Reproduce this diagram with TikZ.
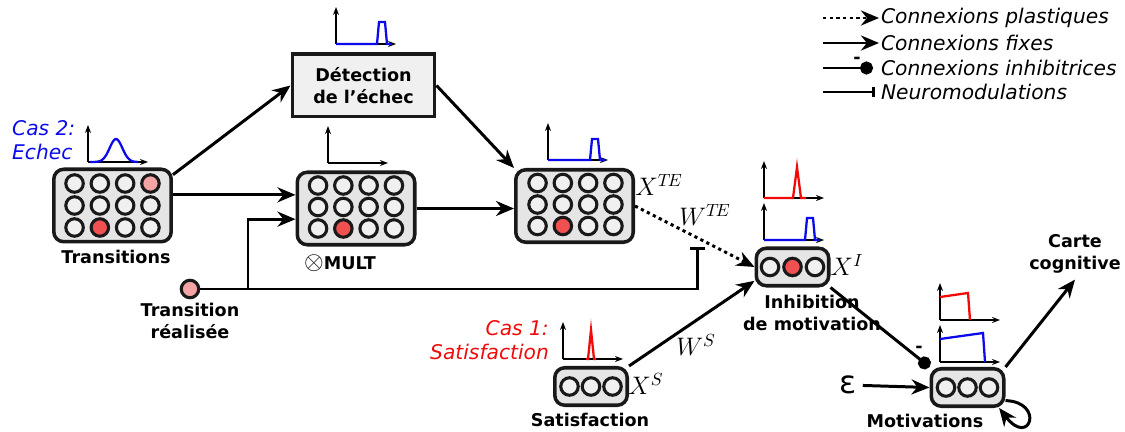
\documentclass[tikz,border=0pt]{standalone}
\usepackage{fontspec}
\setmainfont{DejaVu Sans}[ItalicFont={DejaVu Sans Oblique},BoldFont={DejaVu Sans Bold}]
\usepackage{tikz}
\usetikzlibrary{
  arrows.meta,
  calc
}
\definecolor{boxgray}{RGB}{229,229,229}
\definecolor{cellgray}{RGB}{240,240,240}
\definecolor{cellpink}{RGB}{244,164,164}
\definecolor{cellred}{RGB}{240,80,80}
\definecolor{inkdark}{RGB}{25,25,25}
\definecolor{casblue}{RGB}{10,10,235}
\definecolor{casred}{RGB}{240,10,10}

% empty signal axes, origin given in pixels
\newcommand{\sigaxes}[1]{%
  \draw[axis] (#1) -- ++(0,-37);
  \draw[axis] (#1) -- ++(60,0);}

\begin{document}
\begin{tikzpicture}[x=0.02cm, y=-0.02cm,
    popbox/.style={draw=inkdark, line width=2pt, fill=boxgray, rounded corners=0.2cm, minimum width=2.35cm, minimum height=1.45cm},
    smallpop/.style={popbox, minimum width=1.45cm, minimum height=0.75cm},
    cell/.style={circle, draw=inkdark, line width=1.75pt, fill=cellgray, minimum size=0.35cm, inner sep=0pt},
    lbl/.style={font=\fontsize{10}{12.5}\selectfont\bfseries, align=center},
    cas/.style={font=\fontsize{11.5}{14}\selectfont\itshape},
    var/.style={font=\fontsize{14}{16}\selectfont},
    fixe/.style={line width=1.7pt, -{Stealth[length=0.36cm,width=0.3cm]}},
    plastique/.style={fixe, dash pattern=on 1.8pt off 2pt},
    inhibe/.style={line width=1.7pt, -{Circle[length=0.26cm]}},
    neuromod/.style={line width=1.7pt, -{Bar[width=0.3cm]}},
    axis/.style={line width=0.9pt, -{Stealth[length=0.16cm,width=0.12cm]}},
    sig/.style={line width=1.3pt}]
  \useasboundingbox (0,0) rectangle (1125,432);

  % Populations
  \node[popbox] (trans) at (112.5,205.5) {};
  \node[popbox] (mult) at (356,208.5) {};
  \node[popbox] (te) at (574.5,206) {};
  \node[smallpop] (inhib) at (792.5,267) {};
  \node[smallpop] (satis) at (591,386.5) {};
  \node[smallpop] (motiv) at (967.5,387.5) {};
  \node[draw=inkdark, line width=2pt, fill=cellgray, minimum width=2.85cm, minimum height=1.25cm, lbl] (detect) at (363.5,85.5) {Détection\\de l'échec};
  \node[cell, fill=cellpink] (real) at (190,289) {};

  % Neurons
  \foreach \r/\fills in {1/{cellgray,cellgray,cellgray,cellpink}, 2/{cellgray,cellgray,cellgray,cellgray}, 3/{cellgray,cellred,cellgray,cellgray}}
    \foreach \f [count=\c] in \fills
      \node[cell, fill=\f] (trans-\c\r) at ($(trans)+({(\c-2.5)*25.3},{(\r-2)*22})$) {};
  \foreach \r/\fills in {1/{cellgray,cellgray,cellgray,cellgray}, 2/{cellgray,cellgray,cellgray,cellgray}, 3/{cellgray,cellred,cellgray,cellgray}}
    \foreach \f [count=\c] in \fills {
      \node[cell, fill=\f] (mult-\c\r) at ($(mult)+({(\c-2.5)*25.3},{(\r-2)*21.5-1.5})$) {};
      \node[cell, fill=\f] (te-\c\r) at ($(te)+({(\c-2.5)*25.3+1},{(\r-2)*21.5-1.5})$) {};
    }
  \foreach \f [count=\c] in {cellgray,cellred,cellgray} {
    \node[cell, fill=\f] (inhib-\c) at ($(inhib)+({(\c-2)*22.5},0)$) {};
  }
  \foreach \c in {1,2,3} {
    \node[cell] (satis-\c) at ($(satis)+({(\c-2)*21.5},0)$) {};
    \node[cell] (motiv-\c) at ($(motiv)+({(\c-2)*21.5},0)$) {};
  }

  % Names
  \node[lbl] (transname) at (116,257) {Transitions};
  \node[lbl] (multname) at (340,263) {{\fontsize{14}{14}\selectfont$\otimes$}MULT};
  \node[lbl] (realname) at (190,321) {Transition\\réalisée};
  \node[lbl] (inhibname) at (812,313) {Inhibition\\de motivation};
  \node[lbl] (satisname) at (590,420) {Satisfaction};
  \node[lbl] (motivname) at (925,421) {Motivations};
  \node[lbl] (carte) at (1075,254) {Carte\\cognitive};
  \node[cas, text=casblue, align=left, anchor=west] (cas2) at (6,140) {Cas 2:\\Echec};
  \node[cas, text=casred, align=right, anchor=east] (cas1) at (555,340) {Cas 1:\\Satisfaction};
  \node[var] (xte) at (659,185) {$X^{T\!E}$};
  \node[var] (wte) at (705,215) {$W^{T\!E}$};
  \node[var] (xi) at (847,265) {$X^{I}$};
  \node[var] (xs) at (646,384) {$X^{S}$};
  \node[var] (ws) at (696,345) {$W^{S}$};
  \node[font=\fontsize{18}{18}\selectfont] (eps) at (848,385) {ε};

  % Signals
  \sigaxes{88,162}
  \draw[sig, casblue] plot[domain=0:48, samples=40, smooth] ({90+\x},{162-23*exp(-((\x-26)/9)^2)});
  \sigaxes{336,44}
  \draw[sig, casblue] (336,44) -- (377,44) -- (379,22) -- (385,22) -- (387,44) -- (392,44);
  \sigaxes{328,163}
  \sigaxes{548,160}
  \draw[sig, casblue] (548,160) -- (590,160) -- (592,139) -- (598,139) -- (600,160) -- (605,160);
  \sigaxes{764,198}
  \draw[sig, casred] (764,198) -- (793,198) -- (797,167) -- (801,198) -- (806,198);
  \sigaxes{764,240}
  \draw[sig, casblue] (764,240) -- (805,240) -- (807,218) -- (813,218) -- (815,240) -- (820,240);
  \sigaxes{563,359}
  \draw[sig, casred] (586,359) -- (588,359) -- (591,330) -- (594,359) -- (596,359);
  \sigaxes{940,320}
  \draw[sig, casred] (940,297) -- (968,293) -- (970,320);
  \sigaxes{940,362}
  \draw[sig, casblue] (940,339) -- (983,333) -- (985,362);

  % Connections
  \coordinate (split) at (248,289);
  \coordinate (modtip) at (697,247);
  \draw[fixe] (trans.27) -- (detect.west);
  \draw[fixe] (trans.10) -- (trans.10 -| mult.west);
  \draw[neuromod] (real) -| (modtip);
  \draw[fixe] (split) |- (mult.190);
  \draw[fixe] (mult.east) -- (mult.east -| te.west);
  \draw[fixe] (detect.east) -- (te.north west);
  \draw[plastique] (te.east) -- (inhib.west);
  \draw[fixe] (satis.north east) -- (inhib.200);
  \draw[inhibe] (inhib.south east) -- (motiv.north west);
  \node[lbl] (motivsign) at (919,349) {-};
  \draw[fixe] (eps) -- (motiv.west);
  \draw[fixe] (motiv.north east) -- (carte.south);
  \draw[fixe] (motiv.-19) .. controls (1045,402) and (1030,448) .. (motiv.-33);

  % Legend
  \foreach \y/\name/\txt in {18/plas/Connexions plastiques, 43/fix/Connexions fixes, 68/inh/Connexions inhibitrices, 92/mod/Neuromodulations} {
    \coordinate (leg-\name) at (823,\y);
    \node[cas, anchor=west, inner sep=1pt] (legtxt-\name) at (879,\y) {\txt};
  }
  \draw[plastique] (leg-plas) -- (legtxt-plas.west);
  \draw[fixe] (leg-fix) -- (legtxt-fix.west);
  \draw[inhibe] (leg-inh) -- ([xshift=-0.12cm]legtxt-inh.west);
  \node[lbl] (legsign) at (857,60) {-};
  \draw[neuromod, -{Bar[width=0.2cm]}] (leg-mod) -- ([xshift=-0.08cm]legtxt-mod.west);
\end{tikzpicture}
\end{document}
